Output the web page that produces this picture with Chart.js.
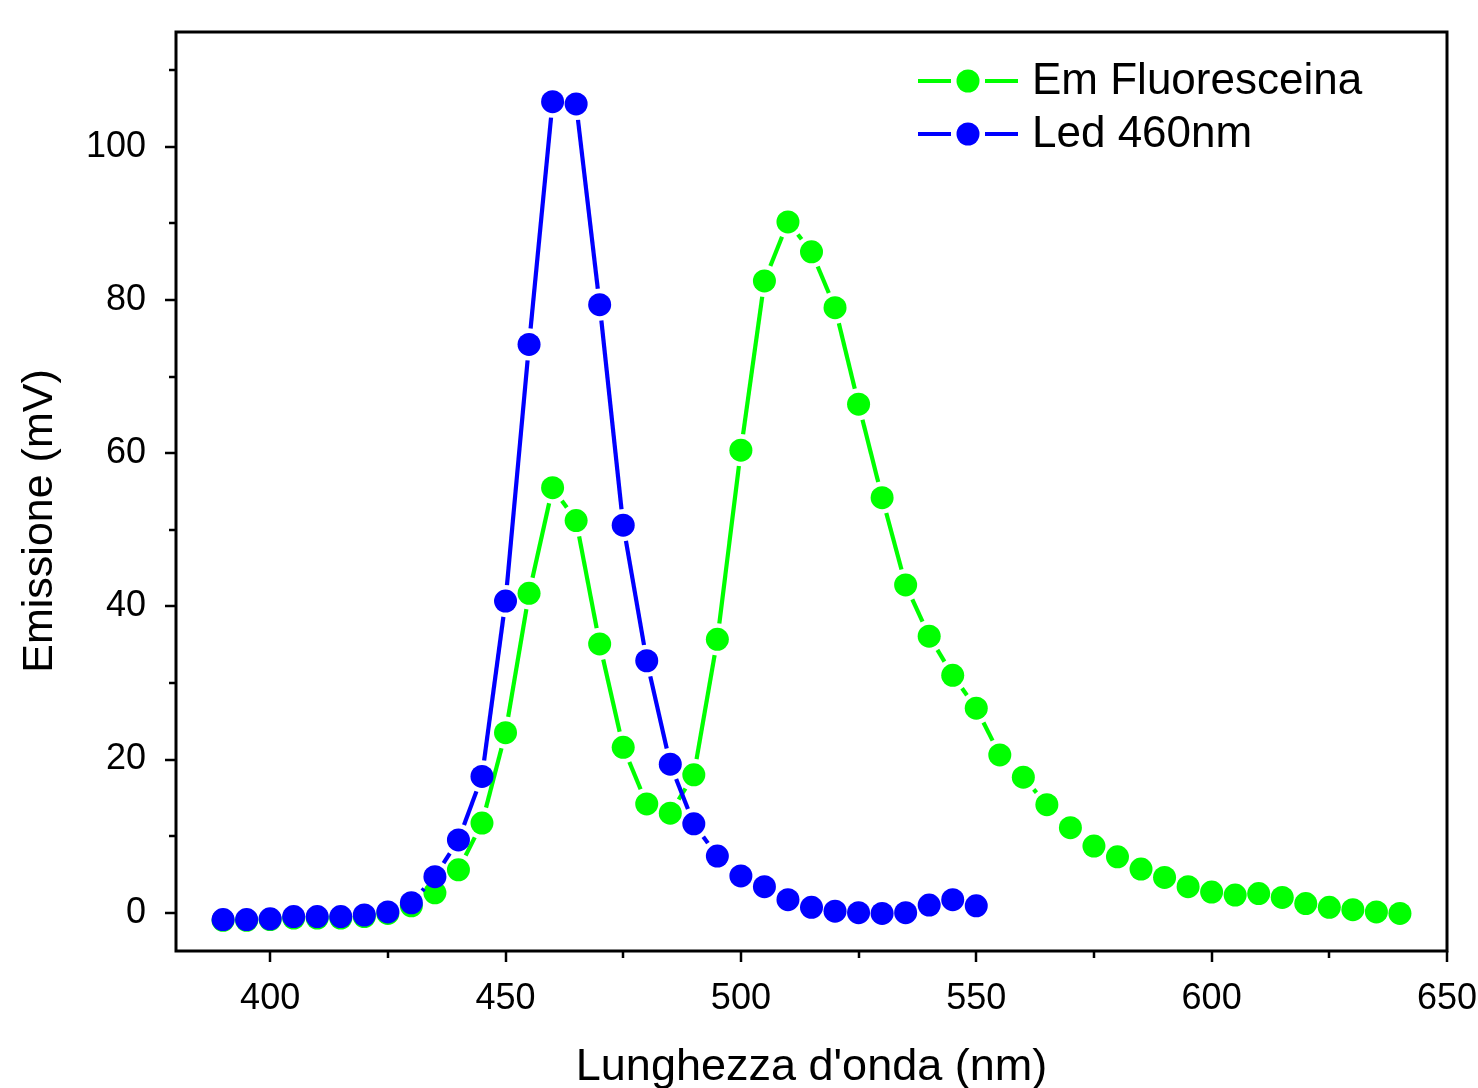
<!DOCTYPE html>
<html>
  <head>
    <meta charset="utf-8">
    <script src="https://cdn.jsdelivr.net/npm/chart.js@4.4.1/dist/chart.umd.min.js"></script>
    <style type="text/css">
      html, body { margin: 0; padding: 0; background: #FFFFFF; }
      #wrap { width: 1478px; height: 1088px; }
    </style>
  </head>

  <body>
    <div id="wrap"><canvas id="canvas" width="1478" height="1088"></canvas></div>

    <script type="text/javascript">
      var FONT = "'Liberation Sans', Arial, sans-serif";

      // wavelengths (nm)
      var ledWavelengths = [390, 395, 400, 405, 410, 415, 420, 425, 430, 435, 440, 445, 450, 455, 460, 465,
        470, 475, 480, 485, 490, 495, 500, 505, 510, 515, 520, 525, 530, 535, 540, 545, 550];
      var fluoWavelengths = [390, 395, 400, 405, 410, 415, 420, 425, 430, 435, 440, 445, 450, 455, 460, 465,
        470, 475, 480, 485, 490, 495, 500, 505, 510, 515, 520, 525, 530, 535, 540, 545, 550, 555, 560, 565,
        570, 575, 580, 585, 590, 595, 600, 605, 610, 615, 620, 625, 630, 635, 640];

      // emission (mV)
      var ledValues = [-0.9, -0.9, -0.8, -0.5, -0.5, -0.5, -0.3, 0.1, 1.3, 4.7, 9.5, 17.8, 40.7, 74.2, 105.9, 105.6,
        79.4, 50.6, 32.9, 19.4, 11.6, 7.4, 4.8, 3.4, 1.7, 0.7, 0.2, 0, -0.1, 0, 1.0, 1.7, 0.9];
      var fluoValues = [-1.0, -1.0, -0.9, -0.7, -0.7, -0.7, -0.5, -0.1, 0.9, 2.6, 5.6, 11.7, 23.5, 41.7, 55.5, 51.2,
        35.1, 21.6, 14.2, 13.0, 18.0, 35.7, 60.4, 82.5, 90.2, 86.3, 79.0, 66.4, 54.2, 42.8, 36.1, 31.0, 26.7, 20.6, 17.7, 14.1,
        11.1, 8.7, 7.3, 5.7, 4.6, 3.4, 2.7, 2.3, 2.5, 2.0, 1.2, 0.7, 0.4, 0.1, -0.1];

      var xTicks = [400, 450, 500, 550, 600, 650];
      var xMinorTicks = [425, 475, 525, 575, 625];
      var yTicks = [0, 20, 40, 60, 80, 100];
      var yMinorTicks = [10, 30, 50, 70, 90, 110];

      var toPoints = function(xs, ys) {
        return xs.map(function(x, i) { return { x: x, y: ys[i] }; });
      };

      var MARKER = 11.5;
      var GAP = 4.5;
      var LINE = 4.2;

      // draws a line from a to b that stops short of both markers
      var gappedSegment = function(ctx, ax, ay, bx, by, cut) {
        var dx = bx - ax, dy = by - ay;
        var d = Math.sqrt(dx * dx + dy * dy);
        if (d <= 2 * cut + 1) return;
        var ux = dx / d, uy = dy / d;
        ctx.beginPath();
        ctx.moveTo(ax + ux * cut, ay + uy * cut);
        ctx.lineTo(bx - ux * cut, by - uy * cut);
        ctx.stroke();
      };

      var gappedLines = {
        id: "gappedLines",
        beforeDatasetDraw: function(chart, args) {
          var meta = args.meta;
          var ds = chart.data.datasets[args.index];
          var ctx = chart.ctx;
          var area = chart.chartArea;
          ctx.save();
          ctx.beginPath();
          ctx.rect(area.left, area.top, area.right - area.left, area.bottom - area.top);
          ctx.clip();
          ctx.strokeStyle = ds.borderColor;
          ctx.lineWidth = LINE;
          ctx.lineCap = "butt";
          for (var i = 1; i < meta.data.length; i++) {
            var a = meta.data[i - 1], b = meta.data[i];
            gappedSegment(ctx, a.x, a.y, b.x, b.y, MARKER + GAP);
          }
          ctx.restore();
        }
      };

      var frame = {
        id: "frame",
        afterDraw: function(chart) {
          var ctx = chart.ctx;
          var a = chart.chartArea;
          var xs = chart.scales.x, ys = chart.scales.y;
          ctx.save();
          ctx.strokeStyle = "#000000";
          ctx.lineWidth = 3;
          ctx.lineCap = "square";
          ctx.strokeRect(a.left, a.top, a.right - a.left, a.bottom - a.top);

          ctx.lineWidth = 2.5;
          ctx.lineCap = "butt";
          var tick = function(x1, y1, x2, y2) {
            ctx.beginPath();
            ctx.moveTo(x1, y1);
            ctx.lineTo(x2, y2);
            ctx.stroke();
          };
          xTicks.forEach(function(v) {
            var px = Math.round(xs.getPixelForValue(v));
            tick(px, a.bottom, px, a.bottom + 11);
          });
          xMinorTicks.forEach(function(v) {
            var px = Math.round(xs.getPixelForValue(v));
            tick(px, a.bottom, px, a.bottom + 7);
          });
          yTicks.forEach(function(v) {
            var py = Math.round(ys.getPixelForValue(v));
            tick(a.left, py, a.left - 11, py);
          });
          yMinorTicks.forEach(function(v) {
            var py = Math.round(ys.getPixelForValue(v));
            tick(a.left, py, a.left - 7, py);
          });

          // y axis title, rotated
          ctx.fillStyle = "#000000";
          ctx.font = "43px " + FONT;
          ctx.textAlign = "center";
          ctx.textBaseline = "middle";
          ctx.save();
          ctx.translate(40, 521);
          ctx.rotate(-Math.PI / 2);
          ctx.fillText("Emissione (mV)", 0, 0);
          ctx.restore();

          // legend: line - marker - line, then the label
          var rows = [81, 134];
          chart.data.datasets.forEach(function(ds, i) {
            var y = rows[i];
            ctx.strokeStyle = ds.borderColor;
            ctx.fillStyle = ds.backgroundColor;
            ctx.lineWidth = LINE;
            tick(918, y, 951, y);
            tick(985, y, 1018, y);
            ctx.beginPath();
            ctx.arc(968, y, MARKER, 0, Math.PI * 2);
            ctx.fill();
            ctx.fillStyle = "#000000";
            ctx.font = "44px " + FONT;
            ctx.textBaseline = "middle";
            ctx.textAlign = "left";
            ctx.fillText(ds.label, 1032, y + 1);
          });
          ctx.restore();
        }
      };

      var noOverhang = function(scale) {
        scale.paddingTop = 0;
        scale.paddingBottom = 0;
        scale.paddingLeft = 0;
        scale.paddingRight = 0;
      };

      var ctx = document.getElementById("canvas").getContext("2d");
      new Chart(ctx, {
        type: "scatter",
        data: {
          datasets: [
            {
              label: "Em Fluoresceina",
              data: toPoints(fluoWavelengths, fluoValues),
              borderColor: "#00FF00",
              backgroundColor: "#00FF00",
              pointRadius: MARKER,
              pointBorderWidth: 0,
              showLine: false,
              order: 2
            },
            {
              label: "Led 460nm",
              data: toPoints(ledWavelengths, ledValues),
              borderColor: "#0000FF",
              backgroundColor: "#0000FF",
              pointRadius: MARKER,
              pointBorderWidth: 0,
              showLine: false,
              order: 1
            }
          ]
        },
        options: {
          responsive: false,
          animation: false,
          devicePixelRatio: 1,
          layout: { padding: { top: 32, right: 31, left: 0, bottom: 0 } },
          plugins: {
            legend: { display: false },
            tooltip: { enabled: false }
          },
          scales: {
            x: {
              type: "linear",
              min: 380,
              max: 650,
              afterBuildTicks: function(scale) {
                scale.ticks = xTicks.map(function(v) { return { value: v }; });
              },
              afterFit: function(scale) { scale.height = 137; noOverhang(scale); },
              grid: { display: false, drawTicks: false },
              border: { display: false },
              ticks: {
                color: "#000000",
                padding: 26,
                maxRotation: 0,
                autoSkip: false,
                font: { family: FONT, size: 36 }
              },
              title: {
                display: true,
                text: "Lunghezza d'onda (nm)",
                color: "#000000",
                font: { family: FONT, size: 45 },
                padding: { top: 0, bottom: -7 }
              }
            },
            y: {
              type: "linear",
              min: -5,
              max: 115,
              afterBuildTicks: function(scale) {
                scale.ticks = yTicks.map(function(v) { return { value: v }; });
              },
              afterFit: function(scale) { scale.width = 176; noOverhang(scale); },
              grid: { display: false, drawTicks: false },
              border: { display: false },
              ticks: {
                color: "#000000",
                padding: 30,
                autoSkip: false,
                font: { family: FONT, size: 36 }
              }
            }
          }
        },
        plugins: [gappedLines, frame]
      });
    </script>
  </body>
</html>
